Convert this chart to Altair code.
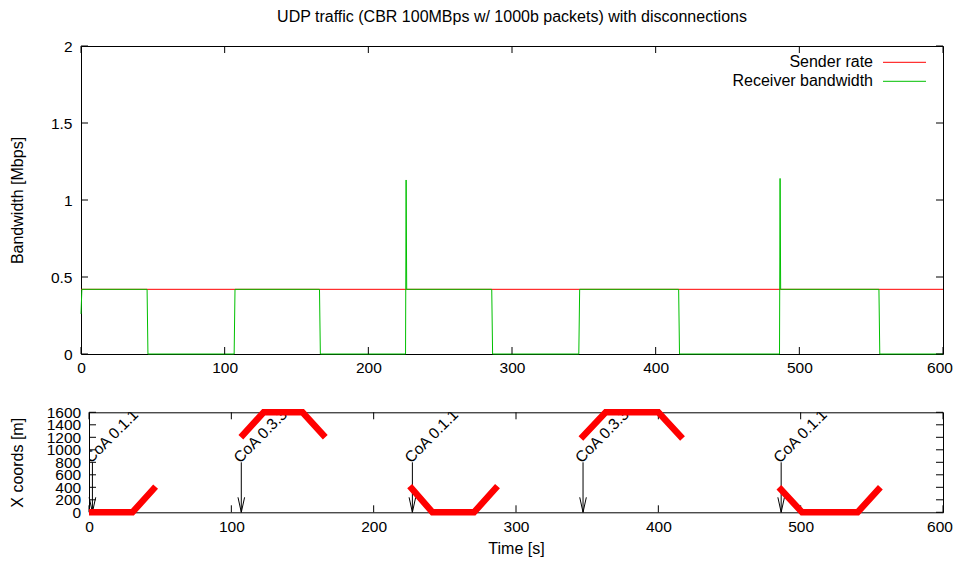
import altair as alt
import pandas as pd

FONT = "Liberation Sans"

# ---------------- data ----------------
time_ticks = [0, 100, 200, 300, 400, 500, 600]
bw_ticks = [0, 0.5, 1, 1.5, 2]
pos_ticks = [0, 200, 400, 600, 800, 1000, 1200, 1400, 1600]

sender_t = [0, 600]
sender_bw = [0.42, 0.42]

recv_t = [0, 0.6, 46.0, 46.6, 106.6, 107.2, 166.0, 166.6, 225.9, 226.3, 226.7,
          285.9, 286.5, 346.5, 347.1, 416.0, 416.6, 486.2, 486.6, 487.0, 555.4, 556.0, 600]
recv_bw = [0.26, 0.42, 0.42, 0, 0, 0.42, 0.42, 0, 0, 1.13, 0.42,
           0.42, 0, 0, 0.42, 0.42, 0, 0, 1.14, 0.42, 0.42, 0, 0]

pos_seg = [1, 1, 1, 2, 2, 2, 2, 3, 3, 3, 3, 4, 4, 4, 4, 5, 5, 5, 5]
pos_t = [0, 30.5, 46.8, 106.7, 122.7, 150, 166, 225.3, 241.3, 270.5, 287,
         345.6, 363, 400, 417, 484.7, 501, 540, 556]
pos_x = [0, 0, 410, 1200, 1600, 1600, 1200, 420, 0, 0, 420,
         1180, 1600, 1600, 1180, 400, 0, 0, 400]

coa_t = [2.4, 107, 227.2, 347.1, 486.3]
coa_label = ["CoA 0.1.1", "CoA 0.3.3", "CoA 0.1.1", "CoA 0.3.3", "CoA 0.1.1"]
coa_top = [800, 800, 800, 800, 800]
coa_end = [0, 0, 0, 0, 0]

legend_names = ["Sender rate", "Receiver bandwidth"]
legend_colors = ["#ff0000", "#00c000"]

# ---------------- layout ----------------
W1, H1 = 862, 308
W2, H2 = 854, 100
TK = 7  # inward tick length

df_send = pd.DataFrame({"t": sender_t, "v": sender_bw})
df_recv = pd.DataFrame({"t": recv_t, "v": recv_bw})
df_pos = pd.DataFrame({"t": pos_t, "v": pos_x, "seg": pos_seg})
df_coa = pd.DataFrame({"t": coa_t, "label": coa_label, "top": coa_top, "end": coa_end})
df_xt = pd.DataFrame({"t": time_ticks})
df_bwt = pd.DataFrame({"v": bw_ticks})
df_pt = pd.DataFrame({"v": pos_ticks})

xscale = alt.Scale(domain=[0, 600], nice=False, zero=False)
y1scale = alt.Scale(domain=[0, 2], nice=False)
y2scale = alt.Scale(domain=[0, 1600], nice=False)

# nudge the last time label slightly left so it stays inside the page
last_lab_off = {"condition": {"test": "datum.value == 600", "value": -3.5}, "value": 0}

x1axis = alt.Axis(values=time_ticks, format="d", title=None, labelPadding=6,
                  labelOffset=last_lab_off)
y1axis = alt.Axis(values=bw_ticks, format="~g", title="Bandwidth [Mbps]",
                  labelPadding=9, titlePadding=24.5)
x2axis = alt.Axis(values=time_ticks, format="d", title="Time [s]", labelPadding=7,
                  titlePadding=5.5, labelOffset=last_lab_off)
y2axis = alt.Axis(values=pos_ticks, format="d", title="X coords [m]",
                  labelPadding=8.3, titlePadding=20.5)


def X1(f="t"):
    return alt.X(f"{f}:Q", scale=xscale, axis=x1axis)


def Y1(f="v"):
    return alt.Y(f"{f}:Q", scale=y1scale, axis=y1axis)


def X2(f="t"):
    return alt.X(f"{f}:Q", scale=xscale, axis=x2axis)


def Y2(f="v"):
    return alt.Y(f"{f}:Q", scale=y2scale, axis=y2axis)


# ---- top panel ----
send_line = alt.Chart(df_send).mark_line(color=legend_colors[0], strokeWidth=1).encode(x=X1(), y=Y1())
recv_line = alt.Chart(df_recv).mark_line(color=legend_colors[1], strokeWidth=1).encode(x=X1(), y=Y1())

t1_bot = alt.Chart(df_xt).mark_rule(color="black").encode(x=X1(), y=alt.value(H1), y2=alt.value(H1 - TK))
t1_top = alt.Chart(df_xt).mark_rule(color="black").encode(x=X1(), y=alt.value(0), y2=alt.value(TK))
t1_left = alt.Chart(df_bwt).mark_rule(color="black").encode(y=Y1(), x=alt.value(0), x2=alt.value(TK))
t1_right = alt.Chart(df_bwt).mark_rule(color="black").encode(y=Y1(), x=alt.value(W1), x2=alt.value(W1 - TK))

leg_layers = []
for i, (name, col) in enumerate(zip(legend_names, legend_colors)):
    yy = 16.3 + 19 * i
    dfl = pd.DataFrame({"label": [name]})
    leg_layers.append(
        alt.Chart(dfl).mark_text(align="right", baseline="middle", fontSize=16, font=FONT,
                                 color="black")
        .encode(text="label:N", x=alt.value(W1 - 70), y=alt.value(yy))
    )
    leg_layers.append(
        alt.Chart(dfl).mark_rule(color=col, strokeWidth=1)
        .encode(x=alt.value(W1 - 60), x2=alt.value(W1 - 17), y=alt.value(yy))
    )

top = alt.layer(send_line, recv_line, t1_bot, t1_top, t1_left, t1_right, *leg_layers).properties(
    width=W1, height=H1,
    title=alt.TitleParams(
        "UDP traffic (CBR 100MBps w/ 1000b packets) with disconnections",
        fontSize=16, fontWeight="normal", font=FONT, anchor="middle", frame="group",
        offset=13.7, color="black"),
)

# ---- bottom panel ----
t2_bot = alt.Chart(df_xt).mark_rule(color="black").encode(x=X2(), y=alt.value(H2), y2=alt.value(H2 - TK))
t2_top = alt.Chart(df_xt).mark_rule(color="black").encode(x=X2(), y=alt.value(0), y2=alt.value(TK))
t2_left = alt.Chart(df_pt).mark_rule(color="black").encode(y=Y2(), x=alt.value(0), x2=alt.value(TK))
t2_right = alt.Chart(df_pt).mark_rule(color="black").encode(y=Y2(), x=alt.value(W2), x2=alt.value(W2 - TK))

arrows = alt.Chart(df_coa).mark_rule(color="black", strokeWidth=1).encode(
    x=X2(), y=Y2("top"), y2="end:Q")
heads = alt.Chart(df_coa).mark_point(
    shape="M-0.22,-1L0,0L0.22,-1", filled=False, color="black", size=900,
    strokeWidth=1, opacity=1).encode(x=X2(), y=Y2("end"))
labels = alt.Chart(df_coa).mark_text(
    angle=315, align="left", baseline="alphabetic", fontSize=15.5, font=FONT,
    color="black", clip=True, dx=-2).encode(x=X2(), y=Y2("top"), text="label:N")
pos_line = alt.Chart(df_pos).mark_line(
    color="#ff0000", strokeWidth=6.5, strokeCap="butt").encode(
    x=X2(), y=Y2(), detail="seg:N")

bottom = alt.layer(t2_bot, t2_top, t2_left, t2_right, arrows, heads, labels, pos_line).properties(
    width=W2, height=H2)

# empty spacer shifts the lower plot frame 8px right of the upper one
spacer = alt.Chart(pd.DataFrame({"a": [0]})).mark_point(opacity=0).properties(
    width=8, height=H2, view=alt.ViewBackground(stroke="transparent"))
bottom_row = alt.hconcat(spacer, bottom, spacing=0, bounds="flush")

chart = alt.vconcat(top, bottom_row, spacing=22.3).properties(
    padding={"left": 1, "top": 0, "right": 0, "bottom": 0}
).configure_view(
    stroke="black", strokeWidth=1
).configure_axis(
    domain=False, ticks=False, grid=False,
    labelFont=FONT, labelFontSize=15.5, labelColor="black",
    titleFont=FONT, titleFontSize=16, titleFontWeight="normal", titleColor="black",
    labelFlush=False, labelOverlap=False, labelBound=False,
).configure_text(font=FONT)

chart.save("out.html", embed_options={"renderer": "svg", "actions": False})
